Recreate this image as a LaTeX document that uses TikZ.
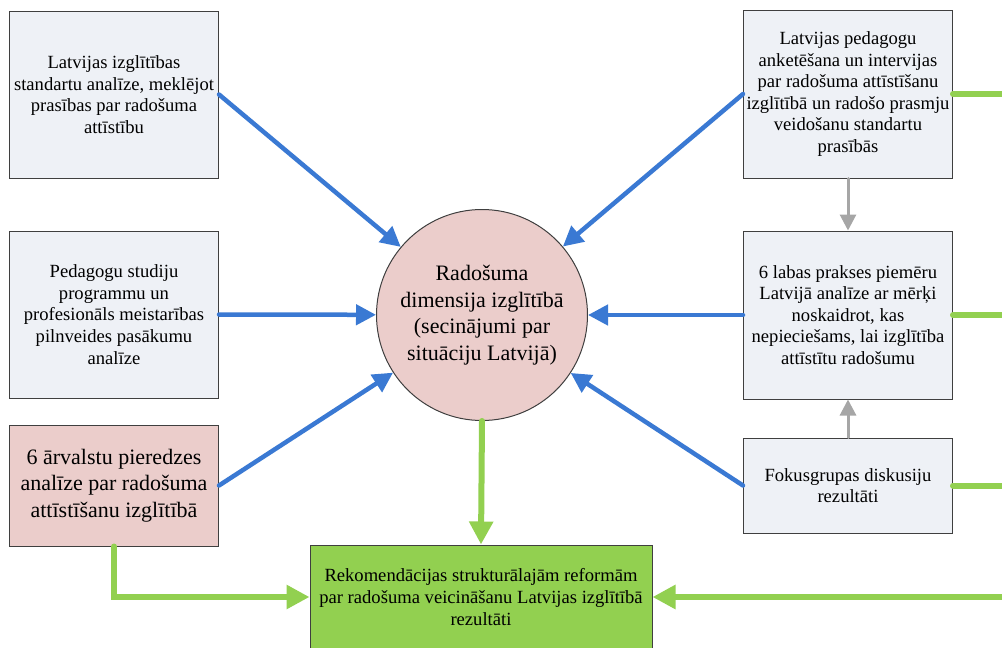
\documentclass[tikz,border=0pt]{standalone}
\usepackage{fontspec}
\setmainfont{Liberation Serif}
\usetikzlibrary{arrows.meta}
\definecolor{boxgray}{HTML}{EEF1F6}
\definecolor{boxpink}{HTML}{EBCDCB}
\definecolor{boxgreen}{HTML}{92D050}
\definecolor{arrblue}{HTML}{3A79D3}
\definecolor{arrgray}{HTML}{A6A6A6}
\definecolor{edgegray}{HTML}{3F3F3F}
\begin{document}
\begin{tikzpicture}[x=1pt,y=-1pt,line cap=round,
    infobox/.style={draw=edgegray,line width=1pt,fill=boxgray,minimum width=209pt,
      align=center,inner sep=0pt,font=\fontsize{18.6}{21.6}\selectfont},
    bigbox/.style={infobox,fill=boxpink,font=\fontsize{22}{26.5}\selectfont},
    resultbox/.style={infobox,fill=boxgreen,minimum width=342pt,minimum height=104pt},
    bluearr/.style={arrblue,line width=4.5pt,-{Triangle[length=20pt,width=20pt]}},
    greenarr/.style={boxgreen,line width=6pt,-{Triangle[length=23pt,width=23pt]}},
    greenline/.style={boxgreen,line width=6pt},
    grayarr/.style={arrgray,line width=3pt,-{Triangle[length=16pt,width=16pt]}}]
  \useasboundingbox (0,0) rectangle (1002,648);
  % left column
  \node[infobox,minimum height=167pt] (stand) at (114,94.5)
    {Latvijas izglītības\\standartu analīze, meklējot\\prasības par radošuma\\attīstību};
  \node[infobox,minimum height=167pt] (prog) at (114,314.5)
    {Pedagogu studiju\\programmu un\\profesionāls meistarības\\pilnveides pasākumu\\analīze};
  \node[bigbox,minimum height=121pt] (abroad) at (114,485.5)
    {6 ārvalstu pieredzes\\analīze par radošuma\\attīstīšanu izglītībā};
  % right column
  \node[infobox,minimum height=168pt] (survey) at (848,94)
    {Latvijas pedagogu\\anketēšana un intervijas\\par radošuma attīstīšanu\\izglītībā un radošo prasmju\\veidošanu standartu\\prasībās};
  \node[infobox,minimum height=168pt] (cases) at (848,315)
    {6 labas prakses piemēru\\Latvijā analīze ar mērķi\\noskaidrot, kas\\nepieciešams, lai izglītība\\attīstītu radošumu};
  \node[infobox,minimum height=95pt] (focus) at (848,485.5)
    {Fokusgrupas diskusiju\\rezultāti};
  % centre and result
  \node[circle,draw=edgegray,line width=1pt,fill=boxpink,minimum size=211pt,inner sep=0pt,
    align=center,font=\fontsize{22}{26.5}\selectfont] (dim) at (482,315)
    {Radošuma\\dimensija izglītībā\\(secinājumi par\\situāciju Latvijā)};
  \node[resultbox] (recom) at (481,597)
    {Rekomendācijas strukturālajām reformām\\par radošuma veicināšanu Latvijas izglītībā\\rezultāti};
  % free ends at the right margin
  \coordinate (outA) at (1002,94);
  \coordinate (outB) at (1002,315);
  \coordinate (outC) at (1002,485.5);
  \coordinate (outD) at (1002,597);
  % blue arrows into the circle
  \draw[bluearr] (stand.east) -- (dim);
  \draw[bluearr] (prog.east) -- (dim);
  \draw[bluearr] (abroad.east) -- (dim);
  \draw[bluearr] (survey.west) -- (dim);
  \draw[bluearr] (cases.west) -- (dim);
  \draw[bluearr] (focus.west) -- (dim);
  % gray arrows on the right
  \draw[grayarr] (survey.south) -- (cases.north);
  \draw[grayarr] (focus.north) -- (cases.south);
  % green connectors
  \draw[greenarr] (dim.south) -- (recom.north);
  \draw[greenarr] (abroad.south) |- (recom.west);
  \draw[greenarr] (outD) -- (recom.east);
  \draw[greenline] (survey.east) -- (outA);
  \draw[greenline] (cases.east) -- (outB);
  \draw[greenline] (focus.east) -- (outC);
\end{tikzpicture}
\end{document}
